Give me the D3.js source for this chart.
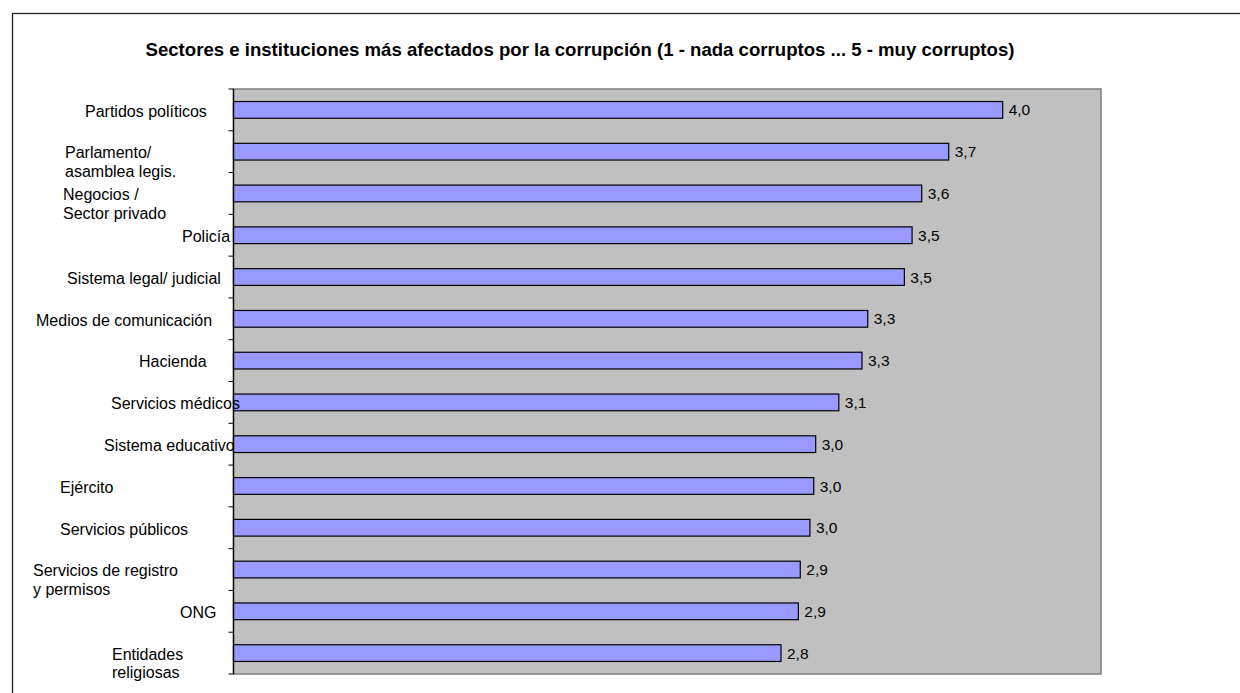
<!DOCTYPE html>
<html>
<head>
<meta charset="utf-8">
<script src="https://cdn.jsdelivr.net/npm/d3@7"></script>
<style>
  html, body { margin: 0; padding: 0; background: #fff; }
  svg { display: block; font-family: "Liberation Sans", Arial, sans-serif; }
</style>
</head>
<body>
<svg id="chart" width="1240" height="693"></svg>
<script>
// ---- data ----
const titleText = "Sectores e instituciones más afectados por la corrupción (1 - nada corruptos ... 5 - muy corruptos)";
const categories = [
  "Partidos políticos",
  "Parlamento/\nasamblea legis.",
  "Negocios /\nSector privado",
  "Policía",
  "Sistema legal/ judicial",
  "Medios de comunicación",
  "Hacienda",
  "Servicios médicos",
  "Sistema educativo",
  "Ejército",
  "Servicios públicos",
  "Servicios de registro\ny permisos",
  "ONG",
  "Entidades\nreligiosas"
];
const values = [3.99, 3.71, 3.57, 3.52, 3.48, 3.29, 3.26, 3.14, 3.02, 3.01, 2.99, 2.94, 2.93, 2.84];
const valueDomain = [0, 4.5];

// ---- layout (label text start positions, as in the original Excel wrapping) ----
const labelStartX = [85, 65, 63, 182, 67, 36, 139, 111, 104, 60, 60, 33, 180, 112];

const svg = d3.select("#chart");
const W = 1240, H = 693;
const plot = { left: 233.5, right: 1101, top: 89, bottom: 674 };

// outer chart border (extends past the window)
svg.append("rect")
  .attr("x", 12.5).attr("y", 13.5)
  .attr("width", W + 20).attr("height", H + 20)
  .attr("fill", "#fff").attr("stroke", "#222").attr("stroke-width", 1.3);

// title
svg.append("text")
  .attr("x", 580).attr("y", 55.5)
  .attr("text-anchor", "middle")
  .attr("font-size", 18.6).attr("font-weight", "bold")
  .attr("fill", "#000")
  .text(titleText);

const x = d3.scaleLinear().domain(valueDomain).range([plot.left, plot.right]);
const y = d3.scaleBand().domain(categories).range([plot.top, plot.bottom])
  .paddingInner(0.6).paddingOuter(0.3);

// plot area
svg.append("rect")
  .attr("x", plot.left).attr("y", plot.top)
  .attr("width", plot.right - plot.left).attr("height", plot.bottom - plot.top)
  .attr("fill", "#C0C0C0").attr("stroke", "#808080").attr("stroke-width", 1.5);

// bars
svg.append("g").selectAll("rect").data(categories).join("rect")
  .attr("x", x(0))
  .attr("y", d => y(d))
  .attr("width", (d, i) => x(values[i]) - x(0))
  .attr("height", y.bandwidth())
  .attr("fill", "#9999FF").attr("stroke", "#000").attr("stroke-width", 1.2);

// value labels
const fmt = d3.formatLocale({ decimal: ",", thousands: ".", grouping: [3], currency: ["", "€"] }).format(".1f");
svg.append("g").selectAll("text").data(categories).join("text")
  .attr("x", (d, i) => x(values[i]) + 6)
  .attr("y", d => y(d) + y.bandwidth() / 2)
  .attr("dy", "0.36em")
  .attr("font-size", 15.5).attr("fill", "#000")
  .text((d, i) => fmt(values[i]));

// category axis line and tick marks at category boundaries
const step = y.step();
const boundaries = d3.range(categories.length + 1).map(i => plot.top + i * step);
svg.append("line")
  .attr("x1", plot.left).attr("x2", plot.left)
  .attr("y1", plot.top).attr("y2", plot.bottom)
  .attr("stroke", "#000").attr("stroke-width", 1.3);
svg.append("g").selectAll("line").data(boundaries).join("line")
  .attr("x1", plot.left - 5).attr("x2", plot.left)
  .attr("y1", d => d).attr("y2", d => d)
  .attr("stroke", "#000").attr("stroke-width", 1);

// category labels
const lab = svg.append("g").selectAll("text").data(categories).join("text")
  .attr("x", (d, i) => labelStartX[i])
  .attr("y", d => y(d) + y.bandwidth() / 2 + 1)
  .attr("font-size", 16).attr("fill", "#000");
lab.each(function(d, i) {
  const lines = d.split("\n");
  const t = d3.select(this);
  lines.forEach((ln, j) => {
    t.append("tspan")
      .attr("x", labelStartX[i])
      .attr("dy", j === 0 ? "0.36em" : "1.15em")
      .text(ln);
  });
});
</script>
</body>
</html>
